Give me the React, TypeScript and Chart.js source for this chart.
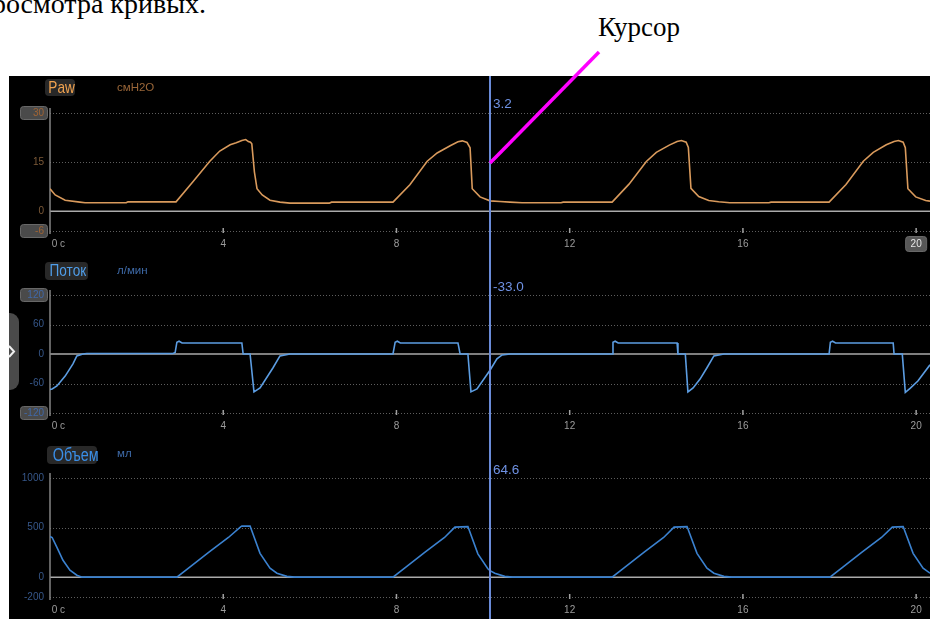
import React, { useEffect, useRef } from 'react';
import { Chart, registerables } from 'chart.js';

Chart.register(...registerables);
Chart.defaults.font.family = "'Liberation Sans', Arial, sans-serif";

// ---------- data ----------
const X_MAX = 20.32;
const xTickValues = [0, 4, 8, 12, 16, 20];
const cursorTime = 10.16;
const cursorLabels = ['3.2', '-33.0', '64.6'];

// Paw, cmH2O
const pawTimes = [
  0, 0.12, 0.35, 0.69, 0.81, 1.76, 1.8,
  2.91, 3.3, 3.69, 3.92, 4.16, 4.3, 4.43, 4.52, 4.58, 4.63, 4.66, 4.72, 4.78, 4.9, 5.08, 5.31, 5.54, 6.45, 6.5,
  7.92, 8.31, 8.71, 8.94, 9.24, 9.42, 9.52, 9.63, 9.7, 9.75, 9.93, 10.16, 10.39, 10.62, 10.9, 11.8, 11.85,
  12.98, 13.37, 13.77, 14.0, 14.3, 14.48, 14.58, 14.69, 14.74, 14.8, 14.98, 15.21, 15.44, 15.7, 16.6, 16.65,
  17.99, 18.38, 18.78, 19.01, 19.31, 19.49, 19.59, 19.7, 19.75, 19.81, 19.99, 20.22, 20.32,
];
const pawValues = [
  6.9, 5.0, 3.4, 2.8, 2.6, 2.6, 2.9,
  2.9, 9.0, 15.3, 18.4, 20.3, 20.9, 21.6, 21.9, 21.3, 21.1, 20.6, 12.0, 6.9, 5.0, 3.4, 2.8, 2.5, 2.5, 2.8,
  2.8, 8.1, 15.3, 17.8, 20.0, 21.2, 21.5, 21.0, 19.4, 6.9, 4.4, 3.2, 3.0, 2.8, 2.6, 2.6, 2.8,
  2.8, 8.3, 15.2, 18.0, 20.2, 21.3, 21.6, 21.1, 19.5, 7.0, 4.5, 3.3, 2.9, 2.6, 2.6, 2.8,
  2.8, 8.2, 15.3, 18.0, 20.3, 21.3, 21.6, 21.1, 19.4, 6.9, 4.4, 3.3, 3.1,
];
const pawTicks = [-6, 0, 15, 30];

// Flow, L/min
const flowTimes = [
  0, 0.05, 0.16, 0.35, 0.53, 0.62, 0.76, 0.85,
  2.84, 2.89, 2.93, 2.98, 3.05, 4.43, 4.46, 4.62, 4.71, 4.85, 5.15, 5.31, 5.54,
  7.92, 7.97, 8.02, 8.09, 9.42, 9.47, 9.65, 9.72, 9.86, 10.16, 10.32, 10.44, 10.62,
  12.98, 13.0, 13.05, 13.12, 14.48, 14.5, 14.67, 14.73, 14.85, 15.01, 15.17, 15.33, 15.56,
  17.99, 18.02, 18.07, 18.14, 19.47, 19.49, 19.68, 19.75, 19.86, 20.04, 20.32,
];
const flowValues = [
  -72, -71, -65, -45, -20, -4, 0, 1,
  1, 3, 24, 26, 22.5, 22.5, 0, 0, -77, -69, -28, -4, 0,
  0, 24, 26, 22.5, 22.5, 0, 0, -77, -71, -33, -10, -2, 0,
  0, 24, 26, 22.5, 22.5, 0, 0, -77, -69, -51, -28, -4, 0,
  0, 24, 26, 22.5, 22.5, 0, 0, -78, -70, -55, -22,
];
const flowTicks = [-120, -60, 0, 60, 120];

// Volume, ml
const volTimes = [
  0, 0.05, 0.16, 0.3, 0.46, 0.62, 0.74,
  2.93, 3.22, 3.67, 4.12, 4.4, 4.43, 4.62, 4.85, 5.08, 5.24, 5.47, 5.65,
  7.92, 8.21, 8.66, 9.11, 9.35, 9.65, 9.88, 10.11, 10.16, 10.27, 10.5, 10.68,
  12.98, 13.27, 13.72, 14.17, 14.41, 14.71, 14.94, 15.17, 15.33, 15.56, 15.74,
  18.01, 18.3, 18.75, 19.2, 19.45, 19.7, 19.93, 20.16, 20.32,
];
const volValues = [
  410, 400, 300, 170, 70, 20, 0,
  0, 99, 252, 400, 508, 515, 515, 240, 90, 40, 8, 0,
  0, 99, 252, 400, 505, 510, 235, 85, 66, 40, 8, 0,
  0, 99, 252, 400, 505, 510, 240, 90, 40, 8, 0,
  0, 99, 252, 400, 505, 510, 240, 90, 40,
];
const volTicks = [-200, 0, 500, 1000];

// ---------- panels ----------
type PanelCfg = {
  top: number;
  height: number;
  padTop: number;
  xAxisH: number;
  min: number;
  max: number;
  ticks: number[];
  times: number[];
  values: number[];
  lineColor: string;
  tickColor: string;
  boxed: number[];
  boxTextColor: string;
  cursorLabel: string;
  cursorLabelY: number;
  boxX20: boolean;
};

const panels: PanelCfg[] = [
  {
    top: 76, height: 182, padTop: 37, xAxisH: 27, min: -6, max: 30, ticks: pawTicks,
    times: pawTimes, values: pawValues, lineColor: '#d99a5c', tickColor: '#7d5a38',
    boxed: [-6, 30], boxTextColor: '#a06434', cursorLabel: cursorLabels[0], cursorLabelY: 28, boxX20: true,
  },
  {
    top: 258, height: 180, padTop: 37, xAxisH: 25, min: -120, max: 120, ticks: flowTicks,
    times: flowTimes, values: flowValues, lineColor: '#5c9de2', tickColor: '#36578a',
    boxed: [-120, 120], boxTextColor: '#4068a8', cursorLabel: cursorLabels[1], cursorLabelY: 29, boxX20: false,
  },
  {
    top: 438, height: 181, padTop: 40, xAxisH: 22, min: -200, max: 1000, ticks: volTicks,
    times: volTimes, values: volValues, lineColor: '#3b82d0', tickColor: '#36578a',
    boxed: [], boxTextColor: '#2e4c7e', cursorLabel: cursorLabels[2], cursorLabelY: 32, boxX20: false,
  },
];

function WavePanel({ cfg, idx }: { cfg: PanelCfg; idx: number }) {
  const ref = useRef<HTMLCanvasElement>(null);
  useEffect(() => {
    const decor = {
      id: 'decor' + idx,
      beforeDraw(chart: any) {
        const { ctx, chartArea: a } = chart;
        const xs = chart.scales.x;
        const ys = chart.scales.y;
        ctx.save();
        // dotted grid lines
        ctx.strokeStyle = '#5e5e5e';
        ctx.lineWidth = 1;
        ctx.setLineDash([1, 2]);
        for (const v of cfg.ticks) {
          if (v === 0) continue;
          const y = Math.round(ys.getPixelForValue(v)) + 0.5;
          ctx.beginPath();
          ctx.moveTo(a.left, y);
          ctx.lineTo(a.right, y);
          ctx.stroke();
        }
        ctx.setLineDash([]);
        // zero line
        const y0 = ys.getPixelForValue(0);
        ctx.strokeStyle = '#aaaaaa';
        ctx.lineWidth = 1.5;
        ctx.beginPath();
        ctx.moveTo(a.left, y0);
        ctx.lineTo(a.right, y0);
        ctx.stroke();
        // y axis line
        ctx.strokeStyle = '#858585';
        ctx.lineWidth = 1.5;
        ctx.beginPath();
        ctx.moveTo(a.left, a.top - 5);
        ctx.lineTo(a.left, a.bottom + 3);
        ctx.stroke();
        // x tick marks
        ctx.strokeStyle = '#a0a0a0';
        ctx.lineWidth = 1.5;
        for (const v of xTickValues) {
          if (v === 0) continue;
          const x = xs.getPixelForValue(v);
          ctx.beginPath();
          ctx.moveTo(x, a.bottom - 3);
          ctx.lineTo(x, a.bottom + 2);
          ctx.stroke();
        }
        // label boxes (y min/max)
        ctx.fillStyle = '#4a4a4a';
        ctx.strokeStyle = '#686868';
        ctx.lineWidth = 1;
        for (const v of cfg.boxed) {
          const y = ys.getPixelForValue(v);
          ctx.beginPath();
          ctx.roundRect(11.5, y - 6.5, 27, 13, 3);
          ctx.fill();
          ctx.stroke();
        }
        if (cfg.boxX20) {
          const x = xs.getPixelForValue(20);
          ctx.beginPath();
          ctx.roundRect(x - 10.5, a.bottom + 5.5, 21, 15, 3);
          ctx.fillStyle = '#575757';
          ctx.fill();
          ctx.stroke();
        }
        ctx.restore();
      },
      afterDraw(chart: any) {
        const { ctx } = chart;
        const xs = chart.scales.x;
        const x = xs.getPixelForValue(cursorTime);
        ctx.save();
        ctx.strokeStyle = '#6a8bd8';
        ctx.lineWidth = 2;
        ctx.beginPath();
        ctx.moveTo(x, 0);
        ctx.lineTo(x, chart.height);
        ctx.stroke();
        ctx.fillStyle = '#6f92e4';
        ctx.font = "13.5px 'Liberation Sans', Arial, sans-serif";
        ctx.textBaseline = 'middle';
        ctx.textAlign = 'left';
        ctx.fillText(cfg.cursorLabel, x + 3, cfg.cursorLabelY);
        ctx.restore();
      },
    };

    const chart = new Chart(ref.current as HTMLCanvasElement, {
      type: 'line',
      data: {
        datasets: [
          {
            data: cfg.times.map((t, i) => ({ x: t, y: cfg.values[i] })),
            borderColor: cfg.lineColor,
            borderWidth: 1.6,
            pointRadius: 0,
            tension: 0,
            fill: false,
          },
        ],
      },
      options: {
        animation: false,
        responsive: false,
        maintainAspectRatio: false,
        layout: { padding: { top: cfg.padTop, left: 0, right: 0, bottom: 0 } },
        plugins: { legend: { display: false }, tooltip: { enabled: false } },
        scales: {
          x: {
            type: 'linear',
            min: 0,
            max: X_MAX,
            grid: { display: false, drawTicks: false },
            border: { display: false },
            afterBuildTicks: (s: any) => {
              s.ticks = xTickValues.map((v) => ({ value: v }));
            },
            afterFit: (s: any) => {
              s.height = cfg.xAxisH;
            },
            ticks: {
              autoSkip: false,
              maxRotation: 0,
              padding: 7,
              font: { size: 10 },
              color: (c: any) => (cfg.boxX20 && c.tick && c.tick.value === 20 ? '#e6e6e6' : '#9c9c9c'),
              callback: (v: any) => (v === 0 ? '      0 с' : String(v)),
            },
          },
          y: {
            type: 'linear',
            min: cfg.min,
            max: cfg.max,
            grid: { display: false, drawTicks: false },
            border: { display: false },
            afterBuildTicks: (s: any) => {
              s.ticks = cfg.ticks.map((v) => ({ value: v }));
            },
            afterFit: (s: any) => {
              s.width = 41;
            },
            ticks: {
              padding: 6,
              font: { size: 10 },
              color: (c: any) => (c.tick && cfg.boxed.includes(c.tick.value) ? cfg.boxTextColor : cfg.tickColor),
              callback: (v: any) => String(v),
            },
          },
        },
      },
      plugins: [decor],
    });
    return () => chart.destroy();
  }, []);
  return (
    <canvas
      ref={ref}
      width={921}
      height={cfg.height}
      style={{ position: 'absolute', left: 9, top: cfg.top, width: 921, height: cfg.height, display: 'block' }}
    />
  );
}

const regular = "'Liberation Sans', Arial, sans-serif";
const serif = "'Liberation Serif', 'Times New Roman', serif";

function Header({ left, top, w, h, text, color, size, unit, unitColor, unitTop }: any) {
  return (
    <>
      <div
        style={{
          position: 'absolute', left, top, width: w, height: h, background: '#282828', borderRadius: 4,
          color, fontFamily: regular, fontSize: size, lineHeight: h + 'px', textAlign: 'center', whiteSpace: 'nowrap',
        }}
      >
        <span style={{ display: 'inline-block', transform: 'scaleX(0.8)', transformOrigin: 'center' }}>{text}</span>
      </div>
      <div
        style={{
          position: 'absolute', left: 117, top: unitTop, color: unitColor, fontFamily: regular, fontSize: 11.5,
          lineHeight: '13px', whiteSpace: 'nowrap',
        }}
      >
        {unit}
      </div>
    </>
  );
}

export default function App() {
  return (
    <div
      style={{
        position: 'fixed', left: 0, top: 0, width: 930, height: 619, overflow: 'hidden', background: '#ffffff',
      }}
    >
      <div
        style={{
          position: 'absolute', right: 724, top: -10, fontFamily: serif, fontSize: 28, lineHeight: '27px',
          whiteSpace: 'nowrap', color: '#000',
        }}
      >
        просмотра кривых.
      </div>
      <div
        style={{
          position: 'absolute', left: 598, top: 14, fontFamily: serif, fontSize: 27, lineHeight: '27px',
          whiteSpace: 'nowrap', color: '#000',
        }}
      >
        Курсор
      </div>
      <div style={{ position: 'absolute', left: 9, top: 76, width: 921, height: 543, background: '#000' }} />
      {panels.map((p, i) => (
        <WavePanel key={i} cfg={p} idx={i} />
      ))}
      <Header left={45} top={79} w={30} h={17} text="Paw" color="#f0a24f" size={17} unit="смН2О" unitColor="#9a6638" unitTop={81} />
      <Header left={45} top={262} w={43} h={18} text="Поток" color="#4f9de8" size={17} unit="л/мин" unitColor="#3e6aa8" unitTop={264} />
      <Header left={47} top={446} w={50} h={18} text="Объем" color="#3a8ee6" size={18} unit="мл" unitColor="#3e6aa8" unitTop={447} />
      <div
        style={{
          position: 'absolute', left: 9, top: 313, width: 10, height: 77, background: '#4a4a4a',
          borderRadius: '0 9px 9px 0',
        }}
      />
      <svg
        width={930}
        height={619}
        style={{ position: 'absolute', left: 0, top: 0, pointerEvents: 'none' }}
      >
        <polyline points="9,346 14,351.5 9,357" fill="none" stroke="#f0f0f0" strokeWidth={2} />
        <line x1={599} y1={52} x2={490} y2={163} stroke="#ff00ff" strokeWidth={3.5} />
      </svg>
    </div>
  );
}
